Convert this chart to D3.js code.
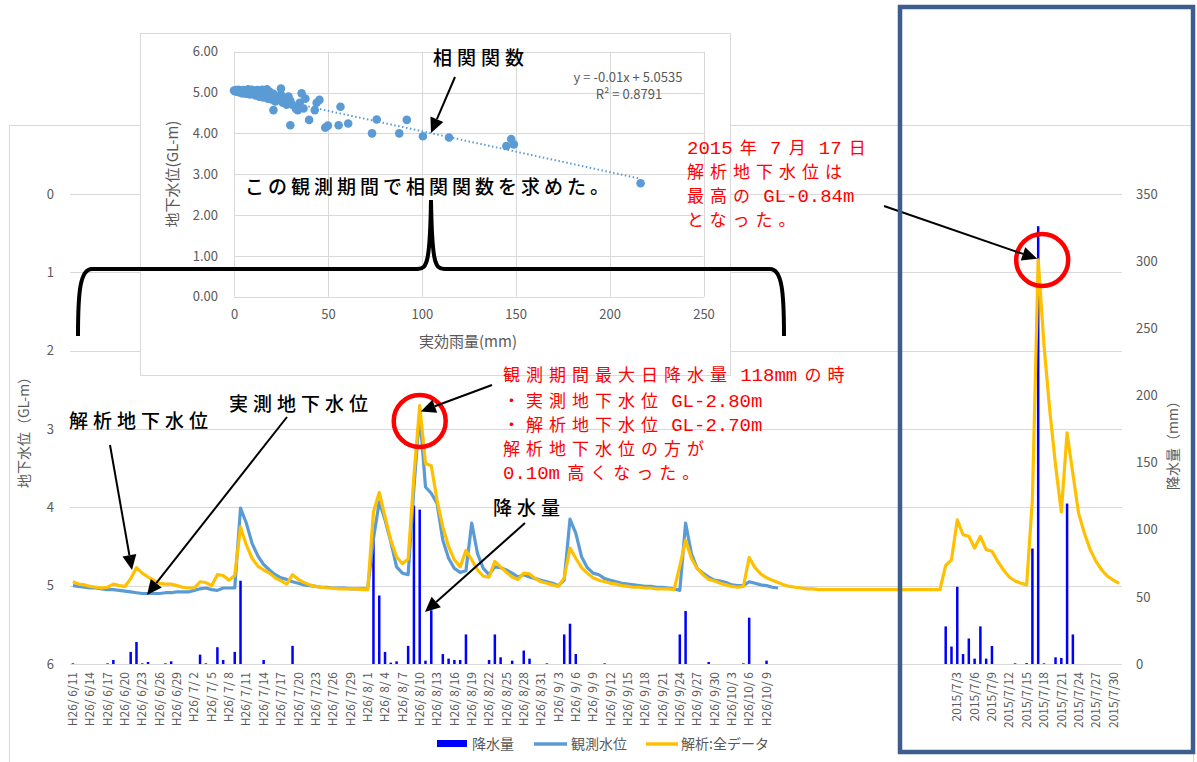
<!DOCTYPE html>
<html>
<head>
<meta charset="utf-8">
<script src="https://cdn.jsdelivr.net/npm/d3@7"></script>
<style>
  body { margin: 0; background: #fff; }
  svg { display: block; font-family: "Noto Sans CJK JP", "Noto Sans", sans-serif; }
</style>
</head>
<body>
<svg id="chart" width="1197" height="762"></svg>
<script>
// ---- data -------------------------------------------------------------
// Daily rainfall (mm), H26/6/11 .. H26/10/11
const rainH26 = [
  0.5,0,0,0,0,0,0.5,3,0,0,
  9,16.4,0.5,1.5,0,0,0.5,2,0,0,
  0,0,7,0.5,0,12.5,3,0,9,62,
  0,0,0,3,0,0,0,0,13.5,0,
  0,0,0,0,0,0,0,0,0,0,
  0,0,92,51,9,1,2,0,13.5,118,
  115,2.5,40,0,7.4,4,3,3,22,0,
  0,0,3,22,5,0,2.5,0,10,4,
  0,0,0.5,0,0,22,30,7.4,0,0,
  0,0,0.5,0,0,0,0,0,0,0,
  0,0,0,0,0,22,39.5,0,0,0,
  1.5,0,0,0,0,0,0.5,34.5,0,0,
  2.5,0,0
];
// Daily rainfall (mm), 2015/7/1 .. 2015/7/31
const rain2015 = [
  28,13,57.5,7.4,19,4,28,4,13.4,0,
  0,0,0.5,0,0.7,86,326,0.5,0,5,
  4.5,119.5,22,0,0,0,0,0,0,0,
  0
];
// Observed groundwater level (GL-m), H26/6/11 .. H26/10/11
const observedLevel = [
  5.00,5.01,5.02,5.03,5.03,5.04,5.05,5.05,5.06,5.07,
  5.08,5.09,5.10,5.10,5.10,5.10,5.09,5.09,5.08,5.08,
  5.08,5.06,5.04,5.03,5.05,5.06,5.03,5.03,5.03,4.01,
  4.20,4.46,4.62,4.73,4.80,4.86,4.90,4.92,4.95,4.97,
  4.99,5.00,5.01,5.02,5.02,5.03,5.03,5.03,5.04,5.04,
  5.04,5.04,4.40,3.93,4.16,4.44,4.76,4.84,4.86,3.75,
  2.80,3.74,3.82,3.95,4.42,4.65,4.78,4.83,4.81,4.20,
  4.59,4.78,4.86,4.76,4.77,4.80,4.84,4.89,4.86,4.89,
  4.91,4.93,4.95,4.97,5.00,4.93,4.15,4.33,4.63,4.77,
  4.84,4.86,4.91,4.93,4.95,4.97,4.98,4.99,5.00,5.01,
  5.01,5.02,5.02,5.03,5.04,5.06,4.20,4.59,4.78,4.84,
  4.89,4.93,4.94,4.96,4.99,5.00,5.00,4.95,4.97,4.99,
  5.00,5.02,5.03
];
// Analysed groundwater level (GL-m), all 182 categories
const analysisLevel = [
  4.95,4.98,4.99,5.01,5.02,5.03,5.02,4.98,5.00,5.01,
  4.91,4.77,4.84,4.89,4.93,4.97,4.98,4.98,5.00,5.02,
  5.03,5.03,4.95,4.96,5.00,4.86,4.87,4.93,4.87,4.25,
  4.48,4.65,4.75,4.80,4.84,4.90,4.94,4.98,4.86,4.92,
  4.96,4.99,5.01,5.02,5.03,5.03,5.04,5.04,5.04,5.04,
  5.05,5.05,4.06,3.81,4.12,4.42,4.63,4.72,4.66,3.60,
  2.70,3.44,3.47,3.91,4.25,4.50,4.67,4.76,4.55,4.67,
  4.80,4.88,4.89,4.69,4.76,4.83,4.89,4.92,4.84,4.85,
  4.91,4.95,4.97,4.99,5.01,4.90,4.52,4.65,4.77,4.84,
  4.90,4.93,4.95,4.97,4.98,5.00,5.01,5.02,5.02,5.03,
  5.03,5.04,5.04,5.04,5.05,4.75,4.42,4.65,4.78,4.86,
  4.92,4.94,4.97,4.99,5.01,5.02,5.01,4.64,4.77,4.85,
  4.90,4.93,4.96,4.99,5.01,5.02,5.03,5.04,5.04,5.05,
  5.05,5.05,5.05,5.05,5.05,5.05,5.05,5.05,5.05,5.05,
  5.05,5.05,5.05,5.05,5.05,5.05,5.05,5.05,5.05,5.05,
  5.05,4.74,4.67,4.16,4.35,4.37,4.52,4.37,4.54,4.56,
  4.69,4.80,4.89,4.94,4.97,4.99,3.90,0.84,1.93,2.76,
  3.46,4.06,3.05,3.57,4.08,4.33,4.54,4.69,4.80,4.88,
  4.93,4.97
];
const gapCount = 28;                 // empty categories between the two periods
const levelTicks = [0, 1, 2, 3, 4, 5, 6];
const rainTicks = [0, 50, 100, 150, 200, 250, 300, 350];

// Scatter: effective rainfall (mm) vs. groundwater level (GL-m)
const scatterRain = [0,0.5,1,1.5,2,2.5,3,3.5,4,4.5,5,5.5,6,6.5,7,7.5,8,8.5,9,9.5,
  10,10.5,11,11.5,12,12.5,13,13.5,14,14.5,15,15.5,16,16.5,17,17.5,18,18.5,19,19.5,
  20,21,21,22,23,24,25,25,26,27,28,29,30,30,31,33,34,35,36,37,38,40,43,44,45.5,
  48.6,50,55.7,56.7,60.8,73.5,76,88,92,100.6,114.5,145,147.6,149,216.5];
const scatterLevel = [5.05,5.03,5.06,5.02,5.04,5.07,5.00,5.05,5.02,4.98,5.06,5.03,5.00,4.97,5.05,5.08,5.02,4.95,5.04,5.07,
  5.00,4.96,5.05,4.93,5.02,5.06,4.98,4.90,5.04,4.95,5.07,4.88,5.00,4.92,4.97,5.08,4.85,4.95,5.02,4.90,
  4.83,4.57,4.97,4.78,4.88,4.82,5.10,4.95,4.75,4.85,4.70,4.90,4.20,4.80,4.70,4.60,4.57,4.75,4.98,4.61,4.85,4.33,4.57,4.75,4.82,
  4.14,4.19,4.20,4.65,4.24,4.00,4.34,4.00,4.33,3.93,3.90,3.69,3.86,3.73,2.78];
const trendSlope = -0.01, trendIntercept = 5.0535, trendR2 = 0.8791;
const scatterXTicks = [0, 50, 100, 150, 200, 250];
const scatterYTicks = [0, 1, 2, 3, 4, 5, 6];

// ---- categories -------------------------------------------------------
const pad2 = n => (n < 10 ? " " + n : "" + n);
const categories = [];
for (let d = new Date(2014, 5, 11); d <= new Date(2014, 9, 11); d.setDate(d.getDate() + 1)) {
  categories.push(`H26/${pad2(d.getMonth() + 1)}/${pad2(d.getDate())}`);
}
for (let k = 0; k < gapCount; k++) categories.push("");
for (let day = 1; day <= 31; day++) categories.push(`2015/7/${day}`);

const rainAll = rainH26.concat(new Array(gapCount).fill(null), rain2015);
const observedAll = observedLevel.concat(new Array(categories.length - observedLevel.length).fill(null));
const idx = d3.range(categories.length);

// ---- layout -----------------------------------------------------------
const svg = d3.select("#chart");
const P = { left: 70, right: 1122, top: 194, bottom: 664 };
const grayText = "#595959", gridColor = "#d9d9d9";
const colBar = "#0000ff", colObs = "#5b9bd5", colAna = "#ffc000";

svg.append("rect").attr("width", 1197).attr("height", 762).attr("fill", "#fff");
// outer chart frame
svg.append("rect").attr("x", 9.5).attr("y", 125.5).attr("width", 1184).attr("height", 700)
  .attr("fill", "#fff").attr("stroke", gridColor);

const x = d3.scaleBand().domain(idx).range([P.left, P.right]).padding(0);
const cx = i => x(i) + x.bandwidth() / 2;
const yLevel = d3.scaleLinear().domain([0, 6]).range([P.top, P.bottom]);
const yRain = d3.scaleLinear().domain([0, 350]).range([P.bottom, P.top]);

// gridlines
svg.append("g").selectAll("line").data(levelTicks).join("line")
  .attr("x1", P.left).attr("x2", P.right)
  .attr("y1", d => Math.round(yLevel(d)) + 0.5).attr("y2", d => Math.round(yLevel(d)) + 0.5)
  .attr("stroke", gridColor).attr("stroke-width", 1);

// axes
const axL = svg.append("g").attr("transform", `translate(${P.left},0)`)
  .call(d3.axisLeft(yLevel).tickValues(levelTicks).tickSize(0).tickPadding(16).tickFormat(d3.format("d")));
const axR = svg.append("g").attr("transform", `translate(${P.right},0)`)
  .call(d3.axisRight(yRain).tickValues(rainTicks).tickSize(0).tickPadding(14));
[axL, axR].forEach(a => {
  a.select(".domain").remove();
  a.selectAll("text").attr("fill", grayText).attr("font-size", 13)
    .attr("font-family", "'Noto Sans CJK JP', sans-serif");
});
const axB = svg.append("g").attr("transform", `translate(0,${P.bottom})`)
  .call(d3.axisBottom(x).tickValues(idx.filter(i => i % 3 === 0)).tickSize(0)
    .tickFormat(i => categories[i]));
axB.select(".domain").remove();
axB.selectAll("text")
  .attr("transform", "rotate(-90)")
  .attr("x", -8).attr("y", 0).attr("dy", "0.35em")
  .style("text-anchor", "end").style("white-space", "pre")
  .attr("fill", grayText).attr("font-size", 12)
  .attr("font-family", "'Noto Sans CJK JP', sans-serif");

// axis titles
svg.append("text").attr("transform", `translate(29,${(P.top + P.bottom) / 2}) rotate(-90)`)
  .attr("text-anchor", "middle").attr("fill", grayText).attr("font-size", 14)
  .text("地下水位（GL-m）");
svg.append("text").attr("transform", `translate(1178,442) rotate(-90)`)
  .attr("text-anchor", "middle").attr("fill", grayText).attr("font-size", 14)
  .text("降水量（mm）");

// rainfall bars
svg.append("g").selectAll("rect").data(idx.filter(i => rainAll[i])).join("rect")
  .attr("x", i => cx(i) - 1.25).attr("width", 2.5)
  .attr("y", i => yRain(rainAll[i])).attr("height", i => yRain(0) - yRain(rainAll[i]))
  .attr("fill", colBar);

// level lines
const levelLine = arr => d3.line().defined(i => arr[i] != null).x(cx).y(i => yLevel(arr[i]));
svg.append("path").datum(idx).attr("d", levelLine(observedAll))
  .attr("fill", "none").attr("stroke", colObs).attr("stroke-width", 3.2).attr("stroke-linejoin", "round");
svg.append("path").datum(idx).attr("d", levelLine(analysisLevel))
  .attr("fill", "none").attr("stroke", colAna).attr("stroke-width", 3.2).attr("stroke-linejoin", "round");

// legend
const lg = svg.append("g").attr("font-size", 14).attr("fill", grayText);
lg.append("rect").attr("x", 437).attr("y", 740).attr("width", 30).attr("height", 7).attr("fill", colBar);
lg.append("text").attr("x", 472).attr("y", 749).text("降水量");
lg.append("line").attr("x1", 534).attr("x2", 567).attr("y1", 744).attr("y2", 744).attr("stroke", colObs).attr("stroke-width", 3.5);
lg.append("text").attr("x", 571).attr("y", 749).text("観測水位");
lg.append("line").attr("x1", 646).attr("x2", 678).attr("y1", 744).attr("y2", 744).attr("stroke", colAna).attr("stroke-width", 3.5);
lg.append("text").attr("x", 681).attr("y", 749).text("解析:全データ");

// ---- inset scatter ----------------------------------------------------
const S = { left: 234, right: 703.5, top: 51.7, bottom: 296.7 };
svg.append("rect").attr("x", 140.5).attr("y", 33.5).attr("width", 590).attr("height", 342)
  .attr("fill", "#fff").attr("stroke", gridColor);
const sx = d3.scaleLinear().domain([0, 250]).range([S.left, S.right]);
const sy = d3.scaleLinear().domain([0, 6]).range([S.bottom, S.top]);
const sg = svg.append("g");
sg.selectAll(".hg").data(scatterYTicks).join("line")
  .attr("x1", S.left).attr("x2", S.right)
  .attr("y1", d => Math.round(sy(d)) + 0.5).attr("y2", d => Math.round(sy(d)) + 0.5)
  .attr("stroke", gridColor);
sg.selectAll(".vg").data(scatterXTicks).join("line")
  .attr("y1", S.top).attr("y2", S.bottom)
  .attr("x1", d => Math.round(sx(d)) + 0.5).attr("x2", d => Math.round(sx(d)) + 0.5)
  .attr("stroke", gridColor);
const sAxL = sg.append("g").attr("transform", `translate(${S.left},0)`)
  .call(d3.axisLeft(sy).tickValues(scatterYTicks).tickSize(0).tickPadding(16).tickFormat(d3.format(".2f")));
const sAxB = sg.append("g").attr("transform", `translate(0,${S.bottom})`)
  .call(d3.axisBottom(sx).tickValues(scatterXTicks).tickSize(0).tickPadding(13));
[sAxL, sAxB].forEach(a => {
  a.select(".domain").remove();
  a.selectAll("text").attr("fill", grayText).attr("font-size", 13)
    .attr("font-family", "'Noto Sans CJK JP', sans-serif");
});
sg.append("text").attr("transform", `translate(178,174) rotate(-90)`)
  .attr("text-anchor", "middle").attr("fill", grayText).attr("font-size", 15).text("地下水位(GL-m)");
sg.append("text").attr("x", 468).attr("y", 347)
  .attr("text-anchor", "middle").attr("fill", grayText).attr("font-size", 15).text("実効雨量(mm)");
// trend line
const trendEnd = d3.max(scatterRain);
sg.append("line")
  .attr("x1", sx(0)).attr("y1", sy(trendIntercept))
  .attr("x2", sx(trendEnd)).attr("y2", sy(trendIntercept + trendSlope * trendEnd))
  .attr("stroke", colObs).attr("stroke-width", 2).attr("stroke-dasharray", "1.5,2.5");
sg.append("g").selectAll("circle").data(d3.range(scatterRain.length)).join("circle")
  .attr("cx", i => sx(scatterRain[i])).attr("cy", i => sy(scatterLevel[i])).attr("r", 4.3)
  .attr("fill", colObs);
sg.append("text").attr("x", 628).attr("y", 82).attr("text-anchor", "middle")
  .attr("fill", grayText).attr("font-size", 13)
  .text(`y = ${trendSlope.toFixed(2)}x + ${trendIntercept}`);
sg.append("text").attr("x", 629).attr("y", 99).attr("text-anchor", "middle")
  .attr("fill", grayText).attr("font-size", 13)
  .text(`R² = ${trendR2}`);

// ---- annotations ------------------------------------------------------
const ann = svg.append("g");
function arrow(x1, y1, x2, y2, w = 2) {
  const a = Math.atan2(y2 - y1, x2 - x1), L = 15, H = 7;
  const bx = x2 - L * Math.cos(a), by = y2 - L * Math.sin(a);
  ann.append("line").attr("x1", x1).attr("y1", y1).attr("x2", bx).attr("y2", by)
    .attr("stroke", "#000").attr("stroke-width", w);
  const p = [[x2, y2],
    [bx + H * Math.sin(a), by - H * Math.cos(a)],
    [bx - H * Math.sin(a), by + H * Math.cos(a)]];
  ann.append("polygon").attr("points", p.map(q => q.join(",")).join(" ")).attr("fill", "#000");
}
// Text with wide-spaced CJK runs, monospace Latin runs and narrow spaces
function label(x0, y0, str, o) {
  const t = ann.append("text").attr("x", x0).attr("y", y0)
    .attr("fill", o.color).attr("font-weight", o.weight || 400)
    .style("white-space", "pre");
  (str.match(/ +|[\x21-\x7e]+|[^\x20-\x7e]+/g) || []).forEach(r => {
    const space = /^ +$/.test(r);
    const latin = /^[\x21-\x7e]+$/.test(r);
    t.append("tspan").text(r)
      .attr("font-family", space || latin ? "'Liberation Mono', monospace" : "'Noto Sans CJK JP', sans-serif")
      .attr("font-size", space ? 12 : latin ? (o.latinSize || o.size) : o.size)
      .attr("letter-spacing", space || latin ? 0 : o.spacing);
  });
}

// bracket marking the observation period
ann.append("path")
  .attr("d", "M78,336 C78,292 80,269 92,269 H418 C427,269 430,262 431,200 C432,262 435,269 444,269 H770 C782,269 784,292 784,336")
  .attr("fill", "none").attr("stroke", "#000").attr("stroke-width", 4);

const black = { color: "#000", size: 19, spacing: 5, weight: 500 };
label(433, 65, "相関関数", black);
arrow(455, 77, 431, 133);
label(245, 194, "この観測期間で相関関数を求めた。", { color: "#000", size: 19, spacing: 4, weight: 500 });
label(69, 428, "解析地下水位", black);
arrow(110, 445, 132, 570);
label(229, 411, "実測地下水位", black);
arrow(287, 417, 147, 595);
label(493, 515, "降水量", black);
arrow(525, 523, 425, 612);

// red notes
const red = { color: "#ff0000", size: 17, spacing: 6, latinSize: 19 };
[["観測期間最大日降水量 118mm の時", 381],
 ["・実測地下水位 GL-2.80m", 407],
 ["・解析地下水位 GL-2.70m", 431],
 ["解析地下水位の方が", 455],
 ["0.10m 高くなった。", 479]].forEach(([s, yy]) => label(503, yy, s, red));
[["2015 年 7 月 17 日", 154],
 ["解析地下水位は", 178],
 ["最高の GL-0.84m", 202],
 ["となった。", 226]].forEach(([s, yy]) => label(687, yy, s, red));

ann.append("circle").attr("cx", cx(60)).attr("cy", 421).attr("r", 26)
  .attr("fill", "none").attr("stroke", "#ff0000").attr("stroke-width", 4.5);
arrow(492, 385, cx(60) + 1, yLevel(2.70) + 6);
ann.append("circle").attr("cx", cx(167) + 4).attr("cy", 260).attr("r", 26)
  .attr("fill", "none").attr("stroke", "#ff0000").attr("stroke-width", 4.5);
arrow(884, 206, cx(167) - 1, yLevel(0.84) - 1);

// frame around the 2015 period
ann.append("rect").attr("x", 900).attr("y", 7).attr("width", 293).attr("height", 745)
  .attr("fill", "none").attr("stroke", "#3d5e8c").attr("stroke-width", 4.5);
</script>
</body>
</html>
